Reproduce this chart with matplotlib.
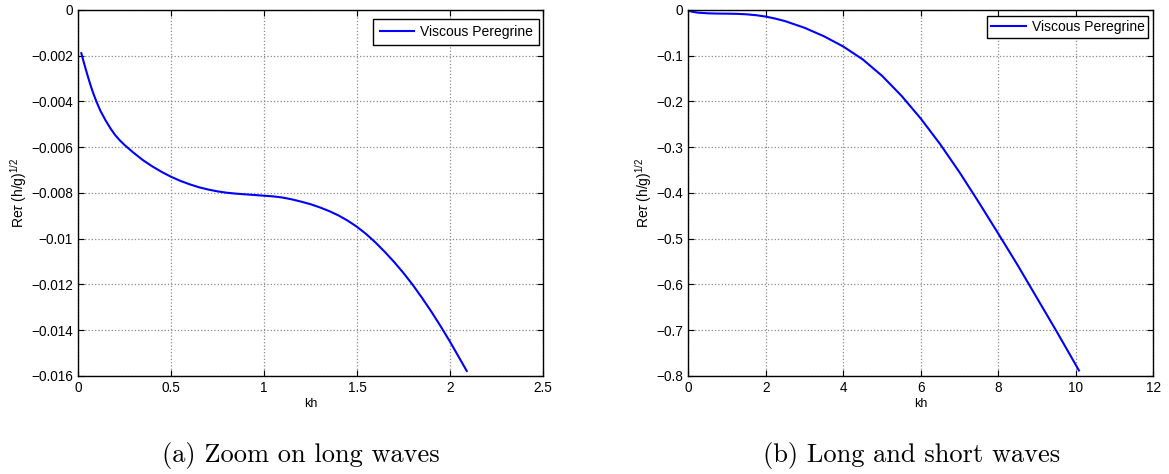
import matplotlib
matplotlib.use("Agg")
import matplotlib.pyplot as plt
from matplotlib.ticker import FuncFormatter

plt.rcParams["font.family"] = ["Liberation Sans", "DejaVu Sans"]
plt.rcParams["mathtext.fontset"] = "custom"
plt.rcParams["mathtext.rm"] = "Liberation Sans"
plt.rcParams["mathtext.it"] = "Liberation Sans:italic"

# (a) zoom on long waves
kh_long = [0.018, 0.03, 0.04, 0.05, 0.06, 0.07, 0.08, 0.09, 0.10, 0.12, 0.15, 0.175,
           0.20, 0.225, 0.25, 0.30, 0.35, 0.40, 0.45, 0.50, 0.55, 0.60, 0.65, 0.70,
           0.75, 0.80, 0.85, 0.90, 0.95, 1.0, 1.05, 1.1, 1.15, 1.2, 1.25, 1.3, 1.35,
           1.4, 1.45, 1.5, 1.55, 1.6, 1.65, 1.7, 1.75, 1.8, 1.85, 1.9, 1.95, 2.0,
           2.05, 2.09]
tau_long = [-0.00189, -0.00225, -0.00254, -0.00282, -0.00309, -0.00335, -0.00359,
            -0.00381, -0.00402, -0.00440, -0.00485, -0.00518, -0.00547, -0.00570,
            -0.00590, -0.00625, -0.00657, -0.00684, -0.00708, -0.00729, -0.00747,
            -0.00762, -0.00775, -0.00785, -0.00793, -0.00799, -0.00803, -0.00806,
            -0.00809, -0.00812, -0.00815, -0.00820, -0.00828, -0.00838, -0.00849,
            -0.00863, -0.00879, -0.00898, -0.00921, -0.00948, -0.00980, -0.01017,
            -0.01058, -0.01102, -0.01150, -0.01202, -0.01259, -0.01319, -0.01383,
            -0.01450, -0.01521, -0.01578]

# (b) long and short waves
kh_all = [0.0, 0.02, 0.1, 0.25, 0.5, 0.75, 1.0, 1.25, 1.5, 1.75, 2.0, 2.25, 2.5,
          3.0, 3.5, 4.0, 4.5, 5.0, 5.5, 6.0, 6.5, 7.0, 7.5, 8.0, 8.5, 9.0, 9.5,
          10.0, 10.08]
tau_all = [0.0, -0.0019, -0.0040, -0.0059, -0.0073, -0.0079, -0.0081, -0.0085,
           -0.0095, -0.0115, -0.0145, -0.019, -0.0245, -0.039, -0.0575, -0.080,
           -0.108, -0.144, -0.1875, -0.2375, -0.2935, -0.355, -0.421, -0.489,
           -0.558, -0.630, -0.702, -0.776, -0.788]

xticks_a = [0, 0.5, 1, 1.5, 2, 2.5]
yticks_a = [0, -0.002, -0.004, -0.006, -0.008, -0.01, -0.012, -0.014, -0.016]
xticks_b = [0, 2, 4, 6, 8, 10, 12]
yticks_b = [0, -0.1, -0.2, -0.3, -0.4, -0.5, -0.6, -0.7, -0.8]

LABEL = "Viscous Peregrine"
YLABEL = r"Re$\tau$ (h/g)$^{1/2}$"
CAPTIONS = ["(a) Zoom on long waves", "(b) Long and short waves"]


def fmt(v, _pos=None):
    return ("%g" % v).replace("-", "\u2212")


def style(ax, xt, yt, borderpad, anchor):
    ax.set_xlim(xt[0], xt[-1])
    ax.set_ylim(yt[-1], yt[0])
    ax.set_xticks(xt)
    ax.set_yticks(yt)
    ax.xaxis.set_major_formatter(FuncFormatter(fmt))
    ax.yaxis.set_major_formatter(FuncFormatter(fmt))
    ax.tick_params(direction="in", top=True, right=True, length=4, width=0.8,
                   labelsize=9.8, pad=3.5)
    ax.grid(True, linestyle=":", color="#8a8a8a", linewidth=0.9)
    for s in ax.spines.values():
        s.set_linewidth(1.0)
    ax.set_xlabel("kh", fontsize=9, labelpad=2)
    ax.set_ylabel(YLABEL, fontsize=10, labelpad=1.5)
    leg = ax.legend(loc="upper right", bbox_to_anchor=anchor, borderaxespad=0,
                    fontsize=10, fancybox=False, framealpha=1, edgecolor="black",
                    handlelength=2.5, handletextpad=0.4, borderpad=borderpad)
    leg.get_frame().set_linewidth(1.0)


fig = plt.figure(figsize=(11.69, 4.74), dpi=100)
ax1 = fig.add_axes([0.0667, 0.2068, 0.3978, 0.7722])
ax2 = fig.add_axes([0.5888, 0.2068, 0.3978, 0.7722])

ax1.plot(kh_long, tau_long, color="#0000ff", lw=1.5, label=LABEL)
style(ax1, xticks_a, yticks_a, 0.45, (1 - 4 / 465, 1 - 9 / 366))

ax2.plot(kh_all, tau_all, color="#0000ff", lw=1.5, label=LABEL)
style(ax2, xticks_b, yticks_b, 0.28, (1 - 5 / 465, 1 - 6 / 366))

fig.text(0.2575, 0.040, CAPTIONS[0], ha="center", va="center", fontsize=19, family="cmr10")
fig.text(0.780, 0.040, CAPTIONS[1], ha="center", va="center", fontsize=19, family="cmr10")

fig.savefig("out.png", dpi=100)
